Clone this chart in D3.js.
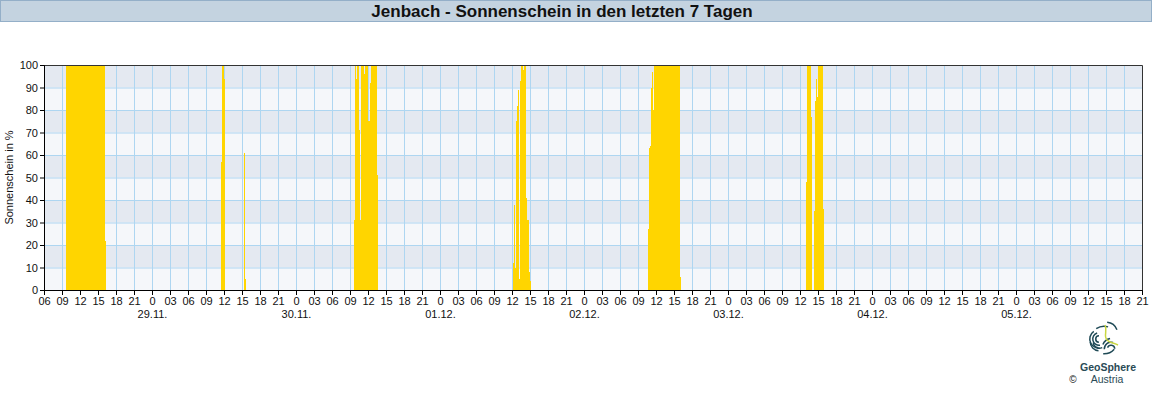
<!DOCTYPE html>
<html><head><meta charset="utf-8">
<script src="https://cdn.jsdelivr.net/npm/d3@7"></script>
<style>body{margin:0;background:#fff}svg{display:block;font-family:"Liberation Sans",Arial,sans-serif}</style>
</head><body>
<svg id="c" width="1152" height="400"></svg>
<script>
// ---- data: 10-minute sunshine percentages ----
const title = "Jenbach - Sonnenschein in den letzten 7 Tagen";
const yLabel = "Sonnenschein in %";
const startTime = "2024-11-28T06:00";
const endTime = "2024-12-05T21:00";
const segStarts = ["2024-11-28T09:40","2024-11-29T11:30","2024-11-29T15:20","2024-11-30T09:40","2024-12-01T12:10","2024-12-02T10:40","2024-12-03T13:00"];
const seg1 = [100,100,100,100,100,100,100,100,100,100,100,100,100,100,100,100,100,100,100,100,100,100,100,100,100,100,100,100,100,100,100,100,100,100,100,100,100,100,100,22];
const seg2 = [57,100,100,94];
const seg3 = [61,5];
const seg4 = [31,100,94,100,100,71,31,100,100,100,96,100,100,100,75,75,92,100,100,100,100,100,100,51];
const seg5 = [12,38,10,75,82,89,5,93,100,100,98,100,100,41,31,31,8,4];
const seg6 = [27,63,64,90,97,80,100,100,100,100,100,100,100,100,100,100,100,100,100,100,100,100,100,100,100,100,100,100,100,100,100,100,6];
const seg7 = [48,100,100,100,100,77,0,0,35,84,94,86,100,100,100,100,100,36];
const segValues = [seg1,seg2,seg3,seg4,seg5,seg6,seg7];
const yTicks = [0,10,20,30,40,50,60,70,80,90,100];

// ---- layout ----
const svg = d3.select("#c");
const L = 44, R = 1142, T = 65, B = 290;
const parse = d3.utcParse("%Y-%m-%dT%H:%M");
const x = d3.scaleUtc().domain([parse(startTime), parse(endTime)]).range([L, R]);
const y = d3.scaleLinear().domain([0, 100]).range([B, T]);

// title bar
svg.append("rect").attr("x",0.5).attr("y",0.5).attr("width",1151).attr("height",21)
  .attr("fill","#c4d3e0").attr("stroke","#94afc8");
svg.append("text").attr("x",562).attr("y",17).attr("text-anchor","middle")
  .attr("font-size",17).attr("font-weight","bold").attr("fill","#111").text(title);

// background bands
const bands = d3.range(0,100,10);
svg.append("g").selectAll("rect").data(bands).join("rect")
  .attr("x",L).attr("width",R-L)
  .attr("y",d=>y(d+10)).attr("height",d=>y(d)-y(d+10))
  .attr("fill",d=>(d/10)%2===1 ? "#e4e9f1" : "#f5f7fa");

// grid
const hourTicks = d3.utcHour.every(3).range(parse(startTime), d3.utcMinute.offset(parse(endTime),1));
const grid = svg.append("g").attr("stroke","#aed6f1").attr("stroke-width",1);
grid.selectAll("line.v").data(hourTicks.slice(1,-1)).join("line")
  .attr("x1",d=>Math.round(x(d))+0.5).attr("x2",d=>Math.round(x(d))+0.5).attr("y1",T).attr("y2",B);
grid.selectAll("line.h").data(yTicks.slice(1,-1)).join("line")
  .attr("x1",L).attr("x2",R).attr("y1",d=>y(d)+0.5).attr("y2",d=>y(d)+0.5);

// bars
const bars = [];
segStarts.forEach((s,i)=>{
  const t0 = parse(s);
  segValues[i].forEach((v,k)=>{ if(v>0) bars.push({t:d3.utcMinute.offset(t0,10*k), v}); });
});
svg.append("g").selectAll("rect").data(bars).join("rect")
  .attr("x",d=>x(d.t)).attr("width",d=>x(d3.utcMinute.offset(d.t,10))-x(d.t))
  .attr("y",d=>y(d.v)).attr("height",d=>B-y(d.v))
  .attr("fill","#ffd500").attr("shape-rendering","crispEdges");

// plot frame (top/right)
svg.append("path").attr("d",`M${L},${T+0.5}H${R+0.5}V${B}`).attr("fill","none").attr("stroke","#333");

// axes
const xAxis = d3.axisBottom(x).tickValues(hourTicks).tickSize(5).tickPadding(2)
  .tickFormat(d=>{const h=d.getUTCHours(); return h===0?"0":d3.format("02d")(h);});
const gx = svg.append("g").attr("transform",`translate(0,${B})`).call(xAxis);
const midnights = hourTicks.filter(d=>d.getUTCHours()===0);
const dAxis = d3.axisBottom(x).tickValues(midnights).tickSize(0).tickPadding(20)
  .tickFormat(d3.utcFormat("%d.%m."));
const gd = svg.append("g").attr("transform",`translate(0,${B})`).call(dAxis);
gd.select(".domain").remove();
const yAxis = d3.axisLeft(y).tickValues(yTicks).tickSize(4).tickPadding(2);
const gy = svg.append("g").attr("transform",`translate(${L},0)`).call(yAxis);
[gx,gd,gy].forEach(g=>{
  g.selectAll("text").attr("font-size",11).attr("fill","#111").attr("font-family","Liberation Sans, Arial, sans-serif");
  g.selectAll("line,path").attr("stroke","#000");
});

svg.append("text").attr("transform",`translate(13,${(T+B)/2}) rotate(-90)`)
  .attr("text-anchor","middle").attr("font-size",11).attr("fill","#111").text(yLabel);

// logo
const logo = svg.append("g").attr("transform","translate(1104,340)");
const dark = "#1f4a56";
const arcs = [
  {cx:-5,cy:-1,r:2.5,a0:-3.1,a1:0},{cx:-5,cy:-1,r:5.5,a0:-3.3,a1:-0.3},{cx:-5,cy:-1,r:8.5,a0:-3.5,a1:-0.6},
  {cx:-5,cy:-1,r:8.5,a0:-3.2+Math.PI*0,a1:-3.0},
  {cx:-5,cy:2,r:5,a0:3.3,a1:4.6},{cx:-5,cy:2,r:8,a0:3.2,a1:4.7},
  {cx:7,cy:9,r:3,a0:-1.2,a1:1.5},{cx:7,cy:9,r:6,a0:-1.6,a1:0.3},{cx:8,cy:8,r:9,a0:-1.2,a1:-0.2},
  {cx:2,cy:-6,r:11,a0:0.1,a1:1.2},{cx:0,cy:0,r:13,a0:2.3,a1:3.2},{cx:0,cy:0,r:13,a0:-0.6,a1:0.3}
];
logo.selectAll("path.a").data(arcs).join("path")
  .attr("transform",d=>`translate(${d.cx},${d.cy})`)
  .attr("d",d=>d3.arc()({innerRadius:d.r,outerRadius:d.r+1.5,startAngle:d.a0,endAngle:d.a1}))
  .attr("fill",dark);
logo.append("path").attr("d","M1,-15 C4,-9 -1,-4 3,0 C6,3 10,3 14,5").attr("fill","none")
  .attr("stroke","#c9d740").attr("stroke-width",1.5);
svg.append("text").attr("x",1108).attr("y",371).attr("text-anchor","middle").attr("font-size",10.5)
  .attr("font-weight","bold").attr("fill","#2a4a55").text("GeoSphere");
svg.append("text").attr("x",1107).attr("y",383).attr("text-anchor","middle").attr("font-size",10.5)
  .attr("fill","#2a4a55").text("Austria");
svg.append("text").attr("x",1073).attr("y",383).attr("text-anchor","middle").attr("font-size",10)
  .attr("fill","#111").text("©");
</script>
</body></html>
